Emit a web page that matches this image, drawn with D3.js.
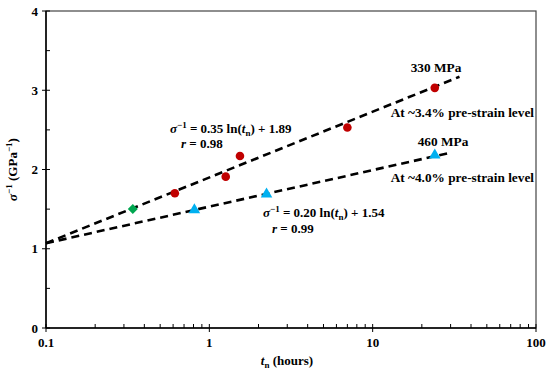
<!DOCTYPE html>
<html>
<head>
  <meta charset="UTF-8">
  <style>
    body { margin: 0; background: #fff; }
    svg { display: block; }
    text { font-family: "Liberation Serif", "Times New Roman", serif; font-weight: bold; fill: #000; }
  </style>
</head>
<body>
<svg></svg>
<script src="https://d3js.org/d3.v7.min.js"></script>
<script>

let width = 550, height = 374;
let margin = {left: 46, right: 14, top: 11, bottom: 46};

// data
let mpa330 = [[0.615, 1.70], [1.26, 1.91], [1.54, 2.17], [7.0, 2.53], [24, 3.03]];
let mpa460 = [[0.81, 1.49], [2.24, 1.69], [24, 2.18]];
let shared = [[0.34, 1.50]];
let fit330 = [[0.1, 1.07], [34, 3.17]];
let fit460 = [[0.1, 1.07], [29.6, 2.21]];
let xMajor = [0.1, 1, 10, 100];
let xMajorLabels = ["0.1", "1", "10", "100"];
let yMajor = [0, 1, 2, 3, 4];
let yMinor = [0.5, 1.5, 2.5, 3.5];

let svg = d3.select("svg").attr("width", width).attr("height", height);

let x = d3.scaleLog().domain([0.1, 100]).range([margin.left, width - margin.right]);
let y = d3.scaleLinear().domain([0, 4]).range([height - margin.bottom, margin.top]);

// frame
svg.append("rect")
    .attr("x", x(0.1)).attr("y", y(4))
    .attr("width", x(100) - x(0.1)).attr("height", y(0) - y(4))
    .attr("fill", "none").attr("stroke", "#444").attr("stroke-width", 1.2);

// minor x ticks (inside)
let xMinor = [];
[0.1, 1, 10].forEach(d => { for (let k = 2; k <= 9; k++) xMinor.push(d * k); });

let g = svg.append("g");
g.selectAll(".xminor").data(xMinor).enter().append("line")
    .attr("x1", d => x(d)).attr("x2", d => x(d))
    .attr("y1", y(0)).attr("y2", y(0) - 4)
    .attr("stroke", "#000").attr("stroke-width", 1);
g.selectAll(".xmajor").data(xMajor).enter().append("line")
    .attr("x1", d => x(d)).attr("x2", d => x(d))
    .attr("y1", y(0) + 4).attr("y2", y(0) - 4)
    .attr("stroke", "#000").attr("stroke-width", 1);
g.selectAll(".ymajor").data(yMajor).enter().append("line")
    .attr("x1", x(0.1) - 4).attr("x2", x(0.1) + 4)
    .attr("y1", d => y(d)).attr("y2", d => y(d))
    .attr("stroke", "#000").attr("stroke-width", 1);
g.selectAll(".yminor").data(yMinor).enter().append("line")
    .attr("x1", x(0.1)).attr("x2", x(0.1) + 4)
    .attr("y1", d => y(d)).attr("y2", d => y(d))
    .attr("stroke", "#000").attr("stroke-width", 1);

// axis lines
svg.append("line").attr("x1", x(0.1)).attr("x2", x(100)).attr("y1", y(0)).attr("y2", y(0))
    .attr("stroke", "#000").attr("stroke-width", 1.5);
svg.append("line").attr("x1", x(0.1)).attr("x2", x(0.1)).attr("y1", y(0)).attr("y2", y(4))
    .attr("stroke", "#000").attr("stroke-width", 1.5);

// tick labels
svg.selectAll(".xl").data(xMajor).enter().append("text")
    .attr("x", d => x(d)).attr("y", y(0) + 19)
    .attr("text-anchor", "middle").attr("font-size", 13)
    .text((d, i) => xMajorLabels[i]);
svg.selectAll(".yl").data(yMajor).enter().append("text")
    .attr("x", x(0.1) - 8).attr("y", d => y(d) + 4.5)
    .attr("text-anchor", "end").attr("font-size", 13)
    .text(d => d);

// axis titles
let xt = svg.append("text").attr("x", 287).attr("y", 365).attr("text-anchor", "middle").attr("font-size", 13);
xt.append("tspan").attr("font-style", "italic").text("t");
xt.append("tspan").attr("font-size", 9).attr("dy", 3).text("n");
xt.append("tspan").attr("dy", -3).text(" (hours)");

let yt = svg.append("text").attr("transform", "translate(17," + y(2) + ") rotate(-90)")
    .attr("text-anchor", "middle").attr("font-size", 13);
yt.append("tspan").attr("font-style", "italic").text("σ");
yt.append("tspan").attr("font-size", 9).attr("dy", -5).text("−1");
yt.append("tspan").attr("dy", 5).text("  (GPa");
yt.append("tspan").attr("font-size", 9).attr("dy", -5).text("−1");
yt.append("tspan").attr("dy", 5).text(")");

// fit lines
let line = d3.line().x(d => x(d[0])).y(d => y(d[1]));
[fit330, fit460].forEach(f => {
    svg.append("path").attr("d", line(f))
        .attr("fill", "none").attr("stroke", "#000")
        .attr("stroke-width", 2.6).attr("stroke-dasharray", "8,5");
});

// markers
svg.selectAll(".c").data(mpa330).enter().append("circle")
    .attr("cx", d => x(d[0])).attr("cy", d => y(d[1])).attr("r", 4.3)
    .attr("fill", "#C00000");
svg.selectAll(".t").data(mpa460).enter().append("path")
    .attr("d", d3.symbol().type(d3.symbolTriangle).size(58))
    .attr("transform", d => "translate(" + x(d[0]) + "," + y(d[1]) + ")")
    .attr("fill", "#00B0F0");
svg.selectAll(".dm").data(shared).enter().append("path")
    .attr("d", d3.symbol().type(d3.symbolSquare).size(50))
    .attr("transform", d => "translate(" + x(d[0]) + "," + y(d[1]) + ") rotate(45)")
    .attr("fill", "#00A650");

// annotations
function eq(px, py, a, b) {
    let t = svg.append("text").attr("x", px).attr("y", py).attr("font-size", 13);
    t.append("tspan").attr("font-style", "italic").text("σ");
    t.append("tspan").attr("font-size", 9).attr("dy", -5).text("−1");
    t.append("tspan").attr("dy", 5).text(" = " + a + " ln(");
    t.append("tspan").attr("font-style", "italic").text("t");
    t.append("tspan").attr("font-size", 9).attr("dy", 3).text("n");
    t.append("tspan").attr("dy", -3).text(") + " + b);
}
function rr(px, py, v) {
    let t = svg.append("text").attr("x", px).attr("y", py).attr("font-size", 13);
    t.append("tspan").attr("font-style", "italic").text("r");
    t.append("tspan").text(" = " + v);
}
eq(170, 133, "0.35", "1.89");
rr(181, 148, "0.98");
eq(263, 217, "0.20", "1.54");
rr(272, 233, "0.99");

let notes = [
    ["330 MPa", 436, 72, "middle"],
    ["At ~3.4% pre-strain level", 534, 117, "end"],
    ["460 MPa", 443, 146, "middle"],
    ["At ~4.0% pre-strain level", 534, 182, "end"]
];
svg.selectAll(".note").data(notes).enter().append("text")
    .attr("x", d => d[1]).attr("y", d => d[2]).attr("text-anchor", d => d[3])
    .attr("font-size", 13.3).text(d => d[0]);

</script>
</body>
</html>
